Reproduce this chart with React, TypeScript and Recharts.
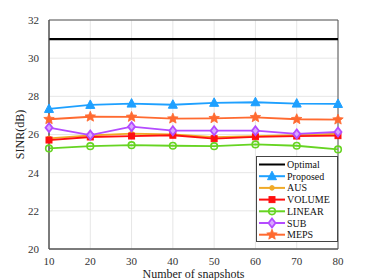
import { LineChart, Line, XAxis, YAxis, CartesianGrid, ReferenceArea } from 'recharts';

const snapshots = [10, 20, 30, 40, 50, 60, 70, 80];
const optimal = [31, 31, 31, 31, 31, 31, 31, 31];
const proposed = [27.34, 27.55, 27.62, 27.56, 27.66, 27.69, 27.62, 27.6];
const aus = [25.8, 25.95, 26.05, 26.0, 25.86, 25.92, 25.97, 26.04];
const volume = [25.71, 25.87, 25.92, 25.96, 25.78, 25.88, 25.92, 25.94];
const linear = [25.27, 25.39, 25.44, 25.41, 25.39, 25.48, 25.41, 25.22];
const sub = [26.36, 25.97, 26.41, 26.2, 26.2, 26.2, 26.03, 26.13];
const meps = [26.8, 26.93, 26.92, 26.83, 26.85, 26.9, 26.8, 26.78];
const yTicks = [20, 22, 24, 26, 28, 30, 32];

const chartData = snapshots.map((n, i) => ({
  n,
  optimal: optimal[i],
  proposed: proposed[i],
  aus: aus[i],
  volume: volume[i],
  linear: linear[i],
  sub: sub[i],
  meps: meps[i],
}));

const FONT = '"Liberation Serif", "Times New Roman", serif';

function starPoints(cx: number, cy: number, r: number) {
  const pts: string[] = [];
  for (let k = 0; k < 10; k++) {
    const rr = k % 2 === 0 ? r : r * 0.45;
    const a = -Math.PI / 2 + (k * Math.PI) / 5;
    pts.push(`${cx + rr * Math.cos(a)},${cy + rr * Math.sin(a)}`);
  }
  return pts.join(' ');
}

// marker glyphs, shared by the lines and the legend
function Marker({ kind, cx, cy, color }: { kind: string; cx: number; cy: number; color: string }) {
  switch (kind) {
    case 'proposed':
      return <polygon points={`${cx},${cy - 5} ${cx - 4.5},${cy + 3.5} ${cx + 4.5},${cy + 3.5}`} fill={color} stroke={color} strokeWidth={1} />;
    case 'aus':
      return <circle cx={cx} cy={cy} r={2.3} fill={color} stroke={color} />;
    case 'volume':
      return <rect x={cx - 3} y={cy - 3} width={6} height={6} fill={color} stroke={color} />;
    case 'linear':
      return <circle cx={cx} cy={cy} r={3.3} fill="none" stroke={color} strokeWidth={1.6} />;
    case 'sub':
      return <polygon points={`${cx},${cy - 4.5} ${cx + 3.5},${cy} ${cx},${cy + 4.5} ${cx - 3.5},${cy}`} fill="#d8a8ff" stroke={color} strokeWidth={1.8} />;
    case 'meps':
      return <polygon points={starPoints(cx, cy, 5.5)} fill={color} stroke={color} strokeWidth={0.8} />;
    default:
      return null;
  }
}

const series = [
  { key: 'optimal', name: 'Optimal', color: '#000000' },
  { key: 'proposed', name: 'Proposed', color: '#1ea0ff' },
  { key: 'aus', name: 'AUS', color: '#f0aa28' },
  { key: 'volume', name: 'VOLUME', color: '#ff1010' },
  { key: 'linear', name: 'LINEAR', color: '#66d422' },
  { key: 'sub', name: 'SUB', color: '#b44cff' },
  { key: 'meps', name: 'MEPS', color: '#ff6a30' },
];

function LegendBox() {
  return (
    <svg width={82} height={86} style={{ display: 'block' }}>
      <rect x={0.5} y={0.5} width={81} height={85} fill="#fff" stroke="#444" strokeWidth={1} />
      {series.map((s, i) => {
        const y = 8.5 + i * 11.7;
        return (
          <g key={s.key}>
            <line x1={3} x2={29} y1={y} y2={y} stroke={s.color} strokeWidth={2} />
            <Marker kind={s.key} cx={16} cy={y} color={s.color} />
            <text x={31} y={y + 3.5} style={{ fontFamily: FONT }} fontSize={10} fill="#111">{s.name}</text>
          </g>
        );
      })}
    </svg>
  );
}

const tickStyle = { fontFamily: FONT, fontSize: 11, fill: '#333' };

export default function App() {
  return (
    <div style={{ position: 'absolute', left: 0, top: 0, width: 374, height: 280, background: '#fff', fontFamily: FONT }}>
      <LineChart width={374} height={280} data={chartData} margin={{ top: 20, right: 36, bottom: 0, left: 17 }} style={{ fontFamily: FONT }}>
        <CartesianGrid stroke="#e6e6e6" strokeWidth={1} />
        <XAxis
          dataKey="n"
          type="number"
          domain={[10, 80]}
          ticks={snapshots}
          tickLine={false}
          axisLine={{ stroke: '#555' }}
          tick={tickStyle}
          tickMargin={2}
          height={31}
          label={{ value: 'Number of snapshots', position: 'insideBottom', offset: 2, style: { fontFamily: FONT, fontSize: 12, fill: '#222' } }}
        />
        <YAxis
          type="number"
          domain={[20, 32]}
          ticks={yTicks}
          tickLine={false}
          axisLine={{ stroke: '#555' }}
          tick={tickStyle}
          tickMargin={4}
          width={32}
          label={{ value: 'SINR(dB)', angle: -90, position: 'insideLeft', offset: 3, style: { textAnchor: 'middle', fontFamily: FONT, fontSize: 12, fill: '#222' } }}
        />
        <ReferenceArea x1={10} x2={80} y1={20} y2={32} fill="none" stroke="#555" strokeWidth={1} ifOverflow="visible" />
        {series.map((s) => (
          <Line
            key={s.key}
            dataKey={s.key}
            name={s.name}
            stroke={s.color}
            strokeWidth={s.key === 'optimal' ? 2.2 : 1.8}
            isAnimationActive={false}
            dot={s.key === 'optimal' ? false : (p: any) => <Marker key={`${s.key}-${p.index}`} kind={s.key} cx={p.cx} cy={p.cy} color={s.color} />}
            activeDot={false}
          />
        ))}
      </LineChart>
      <div style={{ position: 'absolute', left: 256, top: 156 }}>
        <LegendBox />
      </div>
    </div>
  );
}
